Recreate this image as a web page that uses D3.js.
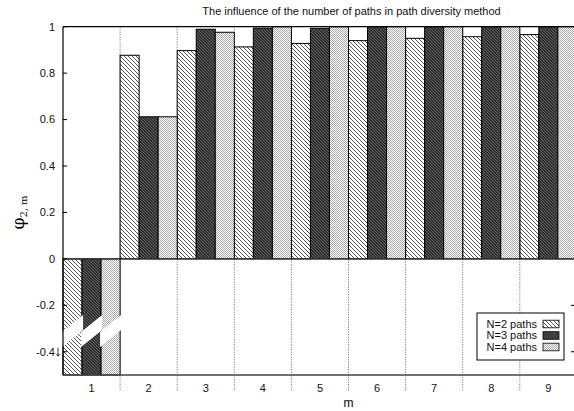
<!DOCTYPE html>
<html>
<head>
<meta charset="utf-8">
<script src="https://cdn.jsdelivr.net/npm/d3@7"></script>
<style>
  html, body { margin: 0; padding: 0; background: #fff; }
  svg { display: block; font-family: "Liberation Sans", Arial, sans-serif; }
</style>
</head>
<body>
<div id="chart"></div>
<script>
// x categories (m). The plot goes on past the right edge of the picture, so m=10 is off-canvas
const mTicks = [1, 2, 3, 4, 5, 6, 7, 8, 9, 10];
const seriesNames = ['N=2 paths', 'N=3 paths', 'N=4 paths'];
// values for m = 1..9; m=1 goes below the axis (broken bars)
const n2Values = [-0.8, 0.877, 0.897, 0.913, 0.928, 0.940, 0.950, 0.957, 0.966];
const n3Values = [-0.8, 0.612, 0.989, 0.994, 0.993, 1, 1, 1, 1];
const n4Values = [-0.8, 0.612, 0.976, 1, 1, 1, 1, 1, 1];
const yTicks = [-0.4, -0.2, 0, 0.2, 0.4, 0.6, 0.8, 1];
const breakValue = -0.31;   // where the break mark crosses the m=1 bars

const width = 574, height = 411;
const margin = { left: 63, top: 26.7, bottom: 36 };
const plotRight = margin.left + mTicks.length * 57.1;

const svg = d3.select('#chart').append('svg')
  .attr('width', width)
  .attr('height', height);

// patterns, one per series
const defs = svg.append('defs');
const p2 = defs.append('pattern').attr('id', 'pat0')
  .attr('patternUnits', 'userSpaceOnUse').attr('width', 4).attr('height', 4);
p2.append('rect').attr('width', 4).attr('height', 4).attr('fill', '#fff');
p2.append('path').attr('d', 'M-1,-1L5,5M-1,3L1,5M3,-1L5,1')
  .attr('stroke', '#555').attr('stroke-width', 1);

const p3 = defs.append('pattern').attr('id', 'pat1')
  .attr('patternUnits', 'userSpaceOnUse').attr('width', 3).attr('height', 3);
p3.append('rect').attr('width', 3).attr('height', 3).attr('fill', '#2b2b2b');
p3.append('path').attr('d', 'M-1,-1L4,4M-1,2L1,4M2,-1L4,1')
  .attr('stroke', '#7a7a7a').attr('stroke-width', 0.8);

const p4 = defs.append('pattern').attr('id', 'pat2')
  .attr('patternUnits', 'userSpaceOnUse').attr('width', 2).attr('height', 2);
p4.append('rect').attr('width', 2).attr('height', 2).attr('fill', '#fff');
p4.append('rect').attr('width', 1).attr('height', 1).attr('fill', '#aaa');
p4.append('rect').attr('x', 1).attr('y', 1).attr('width', 1).attr('height', 1).attr('fill', '#aaa');

// scales
const x = d3.scaleBand().domain(mTicks).range([margin.left, plotRight]).padding(0);
const xs = d3.scaleBand().domain(d3.range(seriesNames.length)).range([0, x.bandwidth()]).padding(0);
const y = d3.scaleLinear().domain([-0.5, 1]).range([height - margin.bottom, margin.top]).clamp(true);

const seriesValues = [n2Values, n3Values, n4Values];
const bars = [];
seriesValues.forEach((vals, s) => {
  vals.forEach((v, i) => bars.push({ m: mTicks[i], s, v }));
});
const shownTicks = mTicks.slice(0, n2Values.length);

// dotted separators between categories (reach below the axis)
svg.append('g')
  .selectAll('line')
  .data(mTicks.slice(1))
  .join('line')
  .attr('x1', d => x(d)).attr('x2', d => x(d))
  .attr('y1', margin.top).attr('y2', height - margin.bottom + 16)
  .attr('stroke', '#666').attr('stroke-width', 1)
  .attr('stroke-dasharray', '1,1.5');

// bars
svg.append('g')
  .selectAll('rect')
  .data(bars)
  .join('rect')
  .attr('x', d => x(d.m) + xs(d.s))
  .attr('width', xs.bandwidth())
  .attr('y', d => Math.min(y(d.v), y(0)))
  .attr('height', d => Math.abs(y(d.v) - y(0)))
  .attr('fill', d => `url(#pat${d.s})`)
  .attr('stroke', '#000')
  .attr('stroke-width', 1);

// break marks on the bars that leave the axis range
const bw = xs.bandwidth();
svg.append('g')
  .selectAll('path')
  .data(bars.filter(d => d.v < y.domain()[0]))
  .join('path')
  .attr('d', d => {
    const x0 = x(d.m) + xs(d.s) - 1, x1 = x0 + bw + 2;
    const yc = y(breakValue), rise = 8.5, half = 7.5;
    return `M${x0},${yc + rise - half}L${x1},${yc - rise - half}L${x1},${yc - rise + half}L${x0},${yc + rise + half}Z`;
  })
  .attr('fill', '#fff');

// frame + zero line
const frame = svg.append('g').attr('fill', 'none');
frame.append('line')
  .attr('x1', margin.left).attr('x2', width)
  .attr('y1', margin.top).attr('y2', margin.top)
  .attr('stroke', '#000').attr('stroke-width', 1.2);
frame.append('line')
  .attr('x1', margin.left).attr('x2', width)
  .attr('y1', y(-0.5)).attr('y2', y(-0.5))
  .attr('stroke', '#444').attr('stroke-width', 1.3);
frame.append('line')
  .attr('x1', margin.left).attr('x2', width)
  .attr('y1', y(0)).attr('y2', y(0))
  .attr('stroke', '#333').attr('stroke-width', 1.2);
frame.append('line')
  .attr('x1', margin.left).attr('x2', margin.left)
  .attr('y1', margin.top).attr('y2', y(-0.5))
  .attr('stroke', '#000').attr('stroke-width', 1.2);

// y axis: inward ticks, labels on the left
const yAxis = svg.append('g');
yAxis.selectAll('line')
  .data(yTicks)
  .join('line')
  .attr('x1', margin.left).attr('x2', margin.left + 4)
  .attr('y1', d => y(d)).attr('y2', d => y(d))
  .attr('stroke', '#000');
yAxis.selectAll('text')
  .data(yTicks)
  .join('text')
  .attr('x', 55)
  .attr('y', d => y(d))
  .attr('dy', '0.35em')
  .attr('text-anchor', 'end')
  .attr('font-size', 11)
  .attr('fill', '#111')
  .text(d => String(d));
// small arrow next to -0.4 (axis break hint)
yAxis.append('path')
  .attr('d', `M58,${y(-0.4) - 4}V${y(-0.4) + 4}M56.3,${y(-0.4) + 2}L58,${y(-0.4) + 4.5}L59.7,${y(-0.4) + 2}`)
  .attr('fill', 'none').attr('stroke', '#222').attr('stroke-width', 0.9);

// stray tick marks at the right edge
svg.append('g')
  .selectAll('line')
  .data([-0.2, -0.4])
  .join('line')
  .attr('x1', width - 3).attr('x2', width)
  .attr('y1', d => y(d)).attr('y2', d => y(d))
  .attr('stroke', '#000');

// x tick labels (only the categories inside the picture)
svg.append('g')
  .selectAll('text')
  .data(shownTicks)
  .join('text')
  .attr('x', d => x(d) + x.bandwidth() / 2)
  .attr('y', height - margin.bottom + 17)
  .attr('text-anchor', 'middle')
  .attr('font-size', 11)
  .attr('fill', '#111')
  .text(d => d);

// axis titles
const plotMid = (margin.left + plotRight) / 2;
svg.append('text')
  .attr('x', plotMid)
  .attr('y', height - 4)
  .attr('text-anchor', 'middle')
  .attr('font-size', 12)
  .text('m');

const yLabel = svg.append('text')
  .attr('transform', `translate(24,${y(0.2)}) rotate(-90)`)
  .attr('text-anchor', 'middle')
  .attr('font-family', '"DejaVu Serif", serif');
yLabel.append('tspan').attr('font-size', 17).text('φ');
yLabel.append('tspan').attr('font-size', 10).attr('dy', 3).text('2, m');

svg.append('text')
  .attr('x', plotMid + 3)
  .attr('y', 15)
  .attr('text-anchor', 'middle')
  .attr('font-size', 11)
  .attr('fill', '#111')
  .text('The influence of the number of paths in path diversity method');

// legend
const legend = svg.append('g').attr('transform', 'translate(477,313)');
legend.append('rect')
  .attr('width', 87).attr('height', 47)
  .attr('fill', '#fff').attr('stroke', '#000').attr('stroke-width', 1);
const rows = legend.selectAll('g')
  .data(seriesNames)
  .join('g')
  .attr('transform', (d, i) => `translate(0,${11 + i * 11.5})`);
rows.append('text')
  .attr('x', 60)
  .attr('dy', '0.35em')
  .attr('text-anchor', 'end')
  .attr('font-size', 11)
  .attr('fill', '#111')
  .text(d => d);
rows.append('rect')
  .attr('x', 66).attr('y', -3.8)
  .attr('width', 16).attr('height', 7.6)
  .attr('fill', (d, i) => `url(#pat${i})`)
  .attr('stroke', '#000').attr('stroke-width', 0.8);
</script>
</body>
</html>
